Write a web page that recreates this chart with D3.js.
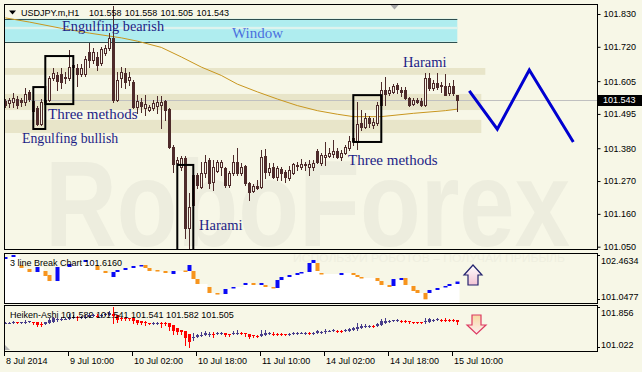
<!DOCTYPE html>
<html><head><meta charset="utf-8">
<script src="https://cdn.jsdelivr.net/npm/d3@7/dist/d3.min.js"></script>
<style>
html,body{margin:0;padding:0;background:#F7F7E7;}
svg{display:block;font-family:"Liberation Sans",Arial,sans-serif;}
text.serif{font-family:"Liberation Serif","Times New Roman",serif;}
</style></head>
<body>
<svg id="chart" width="642" height="372"></svg>
<script>
// ================= DATA =================
const symbolTitle = "USDJPY.m,H1";
const lastOHLC = ["101.558","101.558","101.505","101.543"];

const opens=[101.538,101.532,101.535,101.545,101.542,101.535,101.569,101.538,101.515,101.461,
101.535,101.542,101.616,101.626,101.629,101.619,101.616,101.652,101.649,101.629,
101.629,101.703,101.676,101.686,101.666,101.699,101.716,101.750,101.542,101.616,
101.632,101.609,101.602,101.518,101.535,101.515,101.508,101.515,101.522,101.525,
101.538,101.512,101.384,101.331,101.317,101.347,101.113,101.290,101.290,101.250,
101.297,101.341,101.267,101.304,101.317,101.314,101.257,101.297,101.334,101.297,
101.321,101.263,101.237,101.253,101.250,101.354,101.300,101.317,101.284,101.310,
101.300,101.280,101.297,101.321,101.317,101.327,101.317,101.317,101.371,101.331,
101.351,101.354,101.361,101.371,101.351,101.364,101.381,101.404,101.401,101.465,
101.451,101.481,101.458,101.465,101.525,101.575,101.565,101.569,101.592,101.575,
101.575,101.548,101.528,101.542,101.538,101.525,101.616,101.582,101.599,101.592,
101.589,101.565,101.589,101.558];
const highs=[101.545,101.548,101.565,101.555,101.548,101.582,101.575,101.545,101.522,101.545,
101.552,101.622,101.649,101.636,101.649,101.636,101.709,101.683,101.662,101.662,
101.689,101.733,101.716,101.703,101.719,101.726,101.766,101.856,101.636,101.652,
101.649,101.636,101.609,101.559,101.548,101.559,101.525,101.542,101.555,101.555,
101.542,101.515,101.391,101.351,101.354,101.354,101.230,101.314,101.297,101.334,
101.357,101.347,101.341,101.341,101.341,101.317,101.304,101.357,101.381,101.331,
101.324,101.267,101.260,101.274,101.374,101.377,101.331,101.331,101.321,101.317,
101.307,101.321,101.331,101.334,101.344,101.334,101.341,101.341,101.377,101.364,
101.401,101.381,101.408,101.381,101.374,101.391,101.421,101.441,101.535,101.508,
101.498,101.488,101.481,101.535,101.602,101.619,101.585,101.595,101.599,101.585,
101.585,101.552,101.548,101.548,101.548,101.632,101.632,101.609,101.632,101.602,
101.629,101.599,101.609,101.558];
const lows=[101.518,101.518,101.518,101.515,101.522,101.525,101.538,101.498,101.458,101.458,
101.528,101.538,101.609,101.575,101.582,101.599,101.609,101.636,101.589,101.622,
101.622,101.652,101.666,101.642,101.659,101.693,101.709,101.535,101.538,101.585,
101.582,101.592,101.515,101.498,101.502,101.491,101.505,101.508,101.498,101.448,
101.475,101.381,101.300,101.300,101.307,101.079,101.022,101.183,101.247,101.247,
101.284,101.247,101.240,101.300,101.290,101.250,101.250,101.290,101.290,101.290,
101.257,101.207,101.233,101.243,101.247,101.280,101.290,101.280,101.274,101.274,
101.267,101.274,101.294,101.307,101.310,101.307,101.290,101.307,101.331,101.324,
101.324,101.351,101.351,101.347,101.341,101.361,101.374,101.391,101.377,101.441,
101.448,101.451,101.448,101.458,101.522,101.525,101.558,101.565,101.565,101.555,
101.545,101.522,101.525,101.532,101.522,101.522,101.575,101.575,101.579,101.569,
101.559,101.559,101.559,101.505];
const closes=[101.525,101.542,101.548,101.525,101.535,101.562,101.545,101.505,101.461,101.535,
101.542,101.616,101.632,101.605,101.602,101.616,101.652,101.659,101.629,101.649,
101.679,101.676,101.703,101.659,101.713,101.716,101.750,101.542,101.609,101.636,
101.602,101.619,101.518,101.538,101.522,101.528,101.518,101.532,101.535,101.535,
101.508,101.384,101.327,101.341,101.347,101.113,101.183,101.190,101.257,101.297,
101.334,101.263,101.317,101.334,101.334,101.257,101.297,101.334,101.297,101.317,
101.263,101.233,101.253,101.247,101.351,101.300,101.314,101.284,101.314,101.297,
101.284,101.307,101.327,101.324,101.327,101.324,101.327,101.331,101.334,101.357,
101.357,101.364,101.371,101.351,101.364,101.384,101.404,101.414,101.461,101.451,
101.481,101.465,101.468,101.525,101.575,101.562,101.575,101.589,101.579,101.569,
101.548,101.525,101.542,101.535,101.525,101.616,101.582,101.599,101.585,101.589,
101.559,101.589,101.565,101.543];

const timeLabels=["8 Jul 2014","9 Jul 10:00","10 Jul 02:00","10 Jul 18:00","11 Jul 10:00","14 Jul 02:00","14 Jul 18:00","15 Jul 10:00"];
const timeLabelBars=[0,16,32,48,64,80,96,112];
const priceTicks=[101.830,101.720,101.605,101.495,101.380,101.270,101.160,101.050];
const lastPrice=101.543;

// moving average
const maBars=[0,6,14,21,29,33,39,44,49,54,58,63,68,73,78,83,87,94,102,110,113];
const maValues=[101.817,101.803,101.782,101.766,101.750,101.739,101.718,101.686,101.652,101.624,101.595,101.569,101.545,101.523,101.506,101.494,101.486,101.486,101.497,101.506,101.511];

// support / resistance zones
const zoneTop=[101.649,101.562,101.475];
const zoneBottom=[101.626,101.508,101.431];
const zoneEndBar=[120,119,119];
// "Window" gap zone
const windowTop=101.814, windowBottom=101.737, windowGapTop=101.787, windowGapBottom=101.779, windowEndBar=113;

// pattern boxes
const boxBar0=[7,10,43,87];
const boxBar1=[10,17,47,94];
const boxTop=[101.585,101.689,101.324,101.558];
const boxBottom=[101.4445,101.528,101.000,101.401];

// forecast zigzag
const zigBars=[116,123,131,142];
const zigPrices=[101.572,101.444,101.642,101.401];

// 3 line break bricks
const lbBars=[0,2,4,6,8,10,11,13,16,20,23,25,27,28,30,32,34,35,36,38,40,42,45,46,47,48,51,53,55,57,60,62,64,65,67,68,69,71,73,74,76,77,78,79,84,87,88,89,93,94,96,97,99,100,102,103,105,106,108,110,111,113];
const lbOpen=[102.336,102.399,102.144,102.016,101.920,101.952,101.824,101.632,102.080,102.240,102.112,101.952,101.760,101.920,101.984,102.048,102.112,102.144,102.048,101.984,101.952,101.856,101.968,101.952,101.952,101.696,101.441,101.249,101.217,101.409,101.505,101.569,101.505,101.505,101.441,101.409,101.664,101.760,101.824,101.888,101.920,102.208,102.208,101.888,101.824,101.888,101.824,101.760,101.728,101.632,101.505,101.473,101.664,101.728,101.473,101.345,101.249,101.249,101.345,101.441,101.473,101.537];
const lbClose=[102.399,102.463,102.048,101.920,102.080,101.792,101.632,102.080,102.176,102.304,101.984,101.888,101.920,101.984,102.048,102.112,102.144,102.048,101.952,101.936,101.888,101.952,101.936,102.144,101.696,101.537,101.249,101.201,101.377,101.441,101.569,101.505,101.569,101.441,101.409,101.664,101.760,101.824,101.888,101.920,102.208,102.304,101.952,101.856,101.888,101.824,101.760,101.728,101.632,101.505,101.441,101.696,101.728,101.505,101.313,101.249,101.048,101.345,101.409,101.473,101.537,101.616];
const lbRange=[101.0477,102.4634];
const lbTitle="3 line Break Chart 101.6160";
const haRange=[101.022,101.856];
const haTitle="Heiken-Ashi 101.582 101.541 101.541 101.582 101.505";

const patternNames=["Engulfing bearish","Window","Three methods","Engulfing bullish","Harami","Three methods","Harami"];

// ================= LAYOUT =================
const W=642,H=372,L=4,R=597;
const mainT=4,mainB=249,s1T=253,s1B=303,s2T=305,s2B=351;
const BG="#F7F7E7",BAND="#E8E5C9",CYAN="#AFEDEF",CANDLE="#4E2B2B",MAC="#C8961E",TXT="#1E1E86";

const x=d3.scaleLinear().domain([0,113]).range([5.3,457.3]);
const y=d3.scaleLinear().domain([101.0422,101.8635]).range([mainB,mainT]);
const y1=d3.scaleLinear().domain(lbRange).range([299.3,255]);
const y2=d3.scaleLinear().domain(haRange).range([347.3,307]);
const px=i=>Math.floor(x(i))+0.5;

const svg=d3.select("#chart");
svg.append("rect").attr("width",W).attr("height",H).attr("fill",BG);
const defs=svg.append("defs");
[["cm",L+0.5,mainT+0.5,R-L-0.5,mainB-mainT],["c1",L+0.5,s1T+0.5,R-L-0.5,s1B-s1T],["c2",L+0.5,s2T+0.5,R-L-0.5,s2B-s2T]]
 .forEach(c=>defs.append("clipPath").attr("id",c[0]).append("rect").attr("x",c[1]).attr("y",c[2]).attr("width",c[3]).attr("height",c[4]));
const g1=defs.append("linearGradient").attr("id","gUp").attr("x1",0).attr("y1",0).attr("x2",0).attr("y2",1);
g1.append("stop").attr("offset","0%").attr("stop-color","#FFFFFF");
g1.append("stop").attr("offset","100%").attr("stop-color","#F2C4D4");
const g2=defs.append("linearGradient").attr("id","gDn").attr("x1",0).attr("y1",0).attr("x2",0).attr("y2",1);
g2.append("stop").attr("offset","0%").attr("stop-color","#F6D9A2");
g2.append("stop").attr("offset","100%").attr("stop-color","#FDEEF2");

// ================= MAIN PANEL =================
const gm=svg.append("g").attr("clip-path","url(#cm)");
gm.append("text").attr("x",45).attr("y",246).attr("font-weight","bold").attr("font-size",122)
  .attr("fill","#EDEDDE").attr("textLength",525).attr("lengthAdjust","spacingAndGlyphs").text("RoboForex");

gm.selectAll("rect.zone").data(zoneTop).join("rect").attr("class","zone")
  .attr("x",L).attr("width",(d,i)=>x(zoneEndBar[i])-L)
  .attr("y",d=>y(d)).attr("height",(d,i)=>y(zoneBottom[i])-y(d)).attr("fill",BAND);

gm.append("rect").attr("x",L).attr("width",x(windowEndBar)-L).attr("y",y(windowTop)).attr("height",y(windowBottom)-y(windowTop)).attr("fill",CYAN);
gm.append("rect").attr("x",L).attr("width",x(windowEndBar)-L).attr("y",y(windowGapTop)).attr("height",y(windowGapBottom)-y(windowGapTop)).attr("fill","#DDF3EE");
[windowTop,windowBottom].forEach(v=>gm.append("line").attr("x1",L).attr("x2",x(windowEndBar))
  .attr("y1",Math.round(y(v))+0.5).attr("y2",Math.round(y(v))+0.5).attr("stroke","#2F4F4F").attr("stroke-width",1));

gm.append("line").attr("x1",L).attr("x2",R).attr("y1",Math.round(y(lastPrice))+0.5).attr("y2",Math.round(y(lastPrice))+0.5)
  .attr("stroke","#C0C0C0");

gm.append("path").datum(maBars).attr("fill","none").attr("stroke",MAC).attr("stroke-width",1)
  .attr("d",d3.line().x(d=>x(d)).y((d,i)=>y(maValues[i])));

const cg=gm.append("g").attr("shape-rendering","crispEdges");
opens.forEach((o,i)=>{
  const c=closes[i],cx=px(i);
  cg.append("line").attr("x1",cx).attr("x2",cx).attr("y1",Math.round(y(highs[i]))).attr("y2",Math.round(y(lows[i]))+1).attr("stroke",CANDLE);
  const t=Math.round(y(Math.max(o,c))),b=Math.round(y(Math.min(o,c)));
  if(c>=o){
    cg.append("rect").attr("x",cx-1).attr("y",t+0.5).attr("width",2).attr("height",Math.max(b-t,0.01)).attr("fill",BG).attr("stroke",CANDLE);
  }else{
    cg.append("rect").attr("x",cx-1.5).attr("y",t).attr("width",3).attr("height",Math.max(b-t+1,1)).attr("fill",CANDLE);
  }
});

boxBar0.forEach((b0,i)=>{
  gm.append("rect").attr("x",x(b0)).attr("y",y(boxTop[i])).attr("width",x(boxBar1[i])-x(b0)).attr("height",y(boxBottom[i])-y(boxTop[i]))
   .attr("fill","none").attr("stroke","#000").attr("stroke-width",2);
});

const labelPos=[[62,31,14.3],[232,38,15],[48,119,15],[22,143,13.8],[199,230,14.5],[348,165,15],[403,67,14.5]];
patternNames.forEach((t,i)=>{
  gm.append("text").attr("class","serif").attr("x",labelPos[i][0]).attr("y",labelPos[i][1])
   .attr("font-size",labelPos[i][2]).attr("fill",t==="Window"?"#4A70DE":TXT).text(t);
});

gm.append("path").datum(zigBars).attr("fill","none").attr("stroke","#0000D0").attr("stroke-width",3)
  .attr("d",d3.line().x(d=>x(d)).y((d,i)=>y(zigPrices[i])));

// shift marker
svg.append("path").attr("d","M390,4.5 L399,4.5 L394.5,9.5 Z").attr("fill","#A8A8A8");

// ================= 3 LINE BREAK =================
const gs1=svg.append("g").attr("clip-path","url(#c1)");
gs1.append("text").attr("x",293).attr("y",262).attr("font-size",11).attr("fill","#EFEFE0")
  .attr("textLength",272).attr("lengthAdjust","spacingAndGlyphs").text("ИСПОЛЬЗУЙ РОБОТОВ – ПОЛУЧАЙ ПРИБЫЛЬ");
const areaPts=lbBars.map((b,i)=>({xx:(i===0?L:Math.floor(x(b))-1.5),v:lbClose[i]}));
areaPts.push({xx:Math.floor(x(113))+2.5,v:lbClose[lbClose.length-1]});
gs1.append("path").datum(areaPts).attr("fill","#FFFFFF")
  .attr("d",d3.area().curve(d3.curveStepAfter).x(d=>d.xx).y0(s1B).y1(d=>y1(d.v)));
gs1.selectAll("rect.brick").data(lbBars).join("rect").attr("class","brick")
  .attr("x",d=>Math.floor(x(d))-1.5).attr("width",4)
  .attr("y",(d,i)=>y1(Math.max(lbOpen[i],lbClose[i])))
  .attr("height",(d,i)=>Math.max(1.5,y1(Math.min(lbOpen[i],lbClose[i]))-y1(Math.max(lbOpen[i],lbClose[i]))))
  .attr("fill",(d,i)=>lbClose[i]>lbOpen[i]?"#0A0AF5":"#F7941D");
svg.append("text").attr("x",10).attr("y",265.5).attr("font-size",9).attr("fill","#000").text(lbTitle);
svg.append("path").attr("d","M473,265 L482,275 L478,275 L478,285 L468,285 L468,275 L464,275 Z")
  .attr("fill","url(#gUp)").attr("stroke","#23236E").attr("stroke-width",1.2);

// ================= HEIKEN ASHI (derived from the candle arrays by its definition) =================
const haC=opens.map((o,i)=>(o+highs[i]+lows[i]+closes[i])/4);
const haO=[];
opens.forEach((o,i)=>{haO.push(i===0?(o+closes[0])/2:(haO[i-1]+haC[i-1])/2);});
const gs2=svg.append("g").attr("clip-path","url(#c2)").attr("shape-rendering","crispEdges");
opens.forEach((o,i)=>{
  const hh=Math.max(highs[i],haO[i],haC[i]),hl=Math.min(lows[i],haO[i],haC[i]);
  const col=haC[i]>=haO[i]?"#483D8B":"#FF0000";
  const cx=px(i);
  gs2.append("line").attr("x1",cx).attr("x2",cx).attr("y1",Math.round(y2(hh))).attr("y2",Math.round(y2(hl))+1).attr("stroke",col);
  const t=Math.round(y2(Math.max(haO[i],haC[i]))),b=Math.round(y2(Math.min(haO[i],haC[i])));
  gs2.append("rect").attr("x",cx-1.5).attr("y",t).attr("width",3).attr("height",Math.max(b-t,1)).attr("fill",col);
});
svg.append("text").attr("x",10).attr("y",317.5).attr("font-size",9).attr("fill","#000").text(haTitle);
svg.append("path").attr("d","M472,315 L481,315 L481,325 L486,325 L476.5,334 L467,325 L472,325 Z")
  .attr("fill","url(#gDn)").attr("stroke","#DC3A62").attr("stroke-width",1.2);
svg.append("path").attr("d","M5,345 L5,350 L10,350 Z").attr("fill","#B4B4B4");

// ================= FRAMES =================
[[mainT,mainB],[s1T,s1B],[s2T,s2B]].forEach(p=>svg.append("rect").attr("x",L+0.5).attr("y",p[0]+0.5)
  .attr("width",R-L).attr("height",p[1]-p[0]).attr("fill","none").attr("stroke","#000"));

// ================= AXES =================
const ax=svg.append("g").attr("transform",`translate(${R+0.5},0)`)
  .call(d3.axisRight(y).tickValues(priceTicks).tickSize(3).tickPadding(3).tickFormat(d3.format(".3f")));
ax.select(".domain").remove();
ax.selectAll("text").attr("font-size",9).attr("font-family","'Liberation Sans',Arial,sans-serif").attr("fill","#000");
ax.selectAll("line").attr("stroke","#000");

const yl=Math.round(y(lastPrice));
svg.append("rect").attr("x",598).attr("y",yl-5).attr("width",44).attr("height",11).attr("fill","#000");
svg.append("text").attr("x",603).attr("y",yl).attr("dy","0.35em").attr("font-size",9).attr("fill","#fff").text(d3.format(".3f")(lastPrice));

function subAxis(scale,vals,fmt,top,bot){
  vals.forEach(v=>{
    const yy=scale(v);
    svg.append("line").attr("x1",R).attr("x2",R+3).attr("y1",Math.round(yy)+0.5).attr("y2",Math.round(yy)+0.5).attr("stroke","#000");
    const ly=Math.min(Math.max(yy,top+7.8),bot-6);
    svg.append("text").attr("x",601).attr("y",ly).attr("dy","0.35em").attr("font-size",9).attr("fill","#000").text(d3.format(fmt)(v));
  });
}
subAxis(y1,lbRange.slice().reverse(),".4f",s1T,s1B);
subAxis(y2,haRange.slice().reverse(),".3f",s2T,s2B);

timeLabelBars.forEach((b,i)=>{
  const tx=Math.floor(x(b))-0.5;
  svg.append("line").attr("x1",tx).attr("x2",tx).attr("y1",s2B).attr("y2",s2B+5).attr("stroke","#000");
  svg.append("text").attr("x",tx+1.5).attr("y",363.5).attr("font-size",9).attr("fill","#000").text(timeLabels[i]);
});

// ================= HEADER =================
svg.append("path").attr("d","M9,10.5 L16,10.5 L12.5,14.5 Z").attr("fill","#000");
svg.append("text").attr("x",21).attr("y",16).attr("font-size",9).attr("fill","#000").text(symbolTitle);
lastOHLC.forEach((v,i)=>svg.append("text").attr("x",89+i*35.8).attr("y",16).attr("font-size",9).attr("fill","#000").text(v));
</script>
</body></html>
